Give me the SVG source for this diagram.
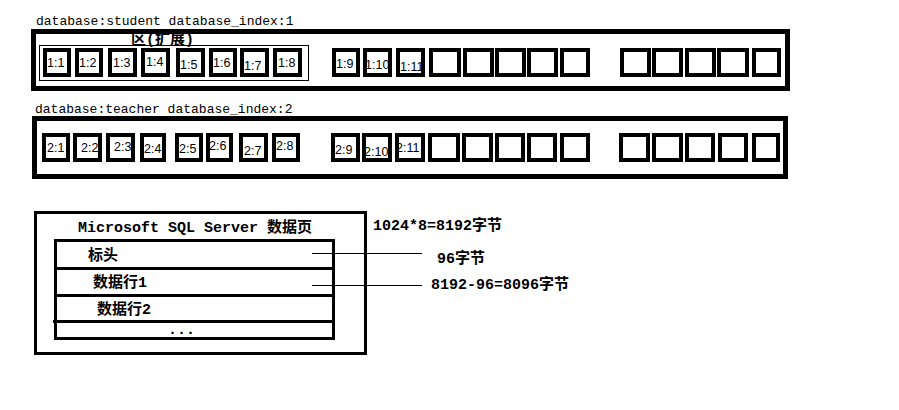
<svg xmlns="http://www.w3.org/2000/svg" width="899" height="410" viewBox="0 0 899 410">
<style>
  .outer { fill: none; stroke: #000; stroke-width: 5; }
  .box { fill: #fff; stroke: #000; stroke-width: 4; }
  .thin { fill: none; stroke: #000; stroke-width: 1; }
  .page { fill: none; stroke: #000; stroke-width: 3; }
  .conn { stroke: #000; stroke-width: 1; fill: none; }
  .hdr { font-family: "Liberation Mono", monospace; font-size: 13px; fill: #000; }
  .lbl { font-family: "Liberation Sans", Arial, sans-serif; font-size: 12.5px; fill: #000; }
  .bold { font-family: "Liberation Mono", "Noto Sans CJK SC", monospace; font-size: 15px; font-weight: bold; fill: #000; }
</style>
<rect width="899" height="410" fill="#fff"/>

<g id="db-student">
  <text class="hdr" x="36" y="25">database:student database_index:1</text>
  <rect class="outer" x="33.5" y="31.5" width="754" height="57"/>
  <rect class="thin" x="39.5" y="45.5" width="269" height="35"/>
  <text class="bold" x="131" y="44">区(扩展)</text>
  <g id="s-pages">
    <rect class="box" x="45" y="50" width="24" height="25"/><text class="lbl" x="47" y="67">1:1</text>
    <rect class="box" x="77" y="50" width="24" height="25"/><text class="lbl" x="79" y="67">1:2</text>
    <rect class="box" x="110" y="50" width="25" height="25"/><text class="lbl" x="113" y="67">1:3</text>
    <rect class="box" x="143" y="50" width="25" height="25"/><text class="lbl" x="146" y="66">1:4</text>
    <rect class="box" x="178" y="50" width="25" height="25"/><text class="lbl" x="180" y="69">1:5</text>
    <rect class="box" x="211" y="50" width="24" height="25"/><text class="lbl" x="213" y="67">1:6</text>
    <rect class="box" x="242" y="50" width="25" height="25"/><text class="lbl" x="244" y="70">1:7</text>
    <rect class="box" x="275" y="50" width="25" height="25"/><text class="lbl" x="278" y="67">1:8</text>
    <rect class="box" x="334" y="50" width="24" height="25"/><text class="lbl" x="336" y="68">1:9</text>
    <rect class="box" x="365" y="50" width="25" height="25"/><text class="lbl" x="365" y="69">1:10</text>
    <rect class="box" x="398" y="50" width="25" height="25"/><text class="lbl" x="400" y="71">1:11</text>
    <rect class="box" x="431" y="50" width="28" height="25"/>
    <rect class="box" x="465" y="50" width="27" height="25"/>
    <rect class="box" x="497" y="50" width="27" height="25"/>
    <rect class="box" x="529" y="50" width="27" height="25"/>
    <rect class="box" x="562" y="50" width="26" height="25"/>
    <rect class="box" x="622" y="50" width="27" height="25"/>
    <rect class="box" x="654" y="50" width="27" height="25"/>
    <rect class="box" x="687" y="50" width="27" height="25"/>
    <rect class="box" x="719" y="50" width="28" height="25"/>
    <rect class="box" x="754" y="50" width="25" height="25"/>
  </g>
</g>

<g id="db-teacher">
  <text class="hdr" x="35" y="113">database:teacher database_index:2</text>
  <rect class="outer" x="34.5" y="118.5" width="751" height="58"/>
  <g id="t-pages">
    <rect class="box" x="44" y="135" width="24" height="25"/><text class="lbl" x="47" y="152">2:1</text>
    <rect class="box" x="75" y="135" width="25" height="25"/><text class="lbl" x="81" y="152">2:2</text>
    <rect class="box" x="108" y="135" width="25" height="25"/><text class="lbl" x="114" y="151">2:3</text>
    <rect class="box" x="142" y="135" width="22" height="25"/><text class="lbl" x="144" y="153">2:4</text>
    <rect class="box" x="177" y="135" width="24" height="25"/><text class="lbl" x="179" y="153">2:5</text>
    <rect class="box" x="208" y="135" width="23" height="25"/><text class="lbl" x="209" y="150">2:6</text>
    <rect class="box" x="241" y="135" width="25" height="25"/><text class="lbl" x="244" y="155">2:7</text>
    <rect class="box" x="274" y="135" width="24" height="25"/><text class="lbl" x="276" y="150">2:8</text>
    <rect class="box" x="333" y="135" width="25" height="25"/><text class="lbl" x="335" y="154">2:9</text>
    <rect class="box" x="364" y="135" width="26" height="25"/><text class="lbl" x="364" y="156">2:10</text>
    <rect class="box" x="397" y="135" width="26" height="25"/><text class="lbl" x="396" y="152">2:11</text>
    <rect class="box" x="430" y="135" width="28" height="25"/>
    <rect class="box" x="464" y="135" width="27" height="25"/>
    <rect class="box" x="497" y="135" width="26" height="25"/>
    <rect class="box" x="529" y="135" width="26" height="25"/>
    <rect class="box" x="562" y="135" width="26" height="25"/>
    <rect class="box" x="621" y="135" width="27" height="25"/>
    <rect class="box" x="654" y="135" width="27" height="25"/>
    <rect class="box" x="687" y="135" width="26" height="25"/>
    <rect class="box" x="720" y="135" width="26" height="25"/>
    <rect class="box" x="754" y="135" width="24" height="25"/>
  </g>
</g>

<g id="sql-page">
  <rect class="page" x="35.5" y="212.5" width="330" height="141"/>
  <text class="bold" x="78" y="232">Microsoft SQL Server 数据页</text>
  <rect class="page" x="55.5" y="240.5" width="278" height="98"/>
  <line class="page" x1="55.5" y1="268.5" x2="333.5" y2="268.5"/>
  <line class="page" x1="55.5" y1="295.5" x2="333.5" y2="295.5"/>
  <line class="page" x1="53" y1="321.5" x2="333.5" y2="321.5"/>
  <text class="bold" x="88" y="260">标头</text>
  <text class="bold" x="93" y="287">数据行1</text>
  <text class="bold" x="97" y="314">数据行2</text>
  <text class="bold" x="168" y="334">...</text>
</g>

<g id="annotations">
  <text class="bold" x="373" y="230">1024*8=8192字节</text>
  <text class="bold" x="437" y="263">96字节</text>
  <text class="bold" x="431" y="289">8192-96=8096字节</text>
</g>

<g id="connectors">
  <line class="conn" x1="312" y1="253.5" x2="422" y2="253.5"/>
  <line class="conn" x1="312" y1="285.5" x2="422" y2="285.5"/>
</g>
</svg>
